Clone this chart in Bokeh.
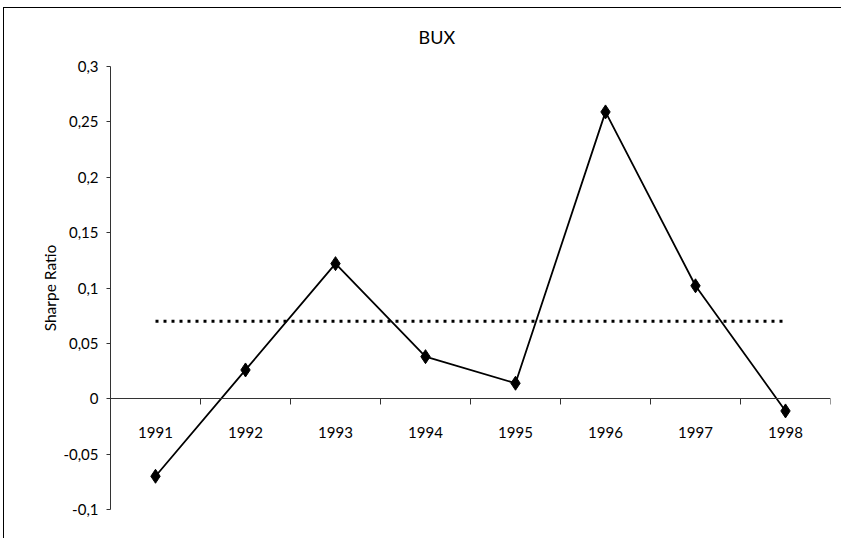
from bokeh.plotting import figure
from bokeh.models import Range1d, LinearAxis, FixedTicker, Title, ColumnDataSource
from bokeh.embed import file_html
from bokeh.resources import INLINE

years = ["1991", "1992", "1993", "1994", "1995", "1996", "1997", "1998"]
sharpe = [-0.07, 0.026, 0.122, 0.038, 0.014, 0.259, 0.102, -0.011]
average = 0.07
y_ticks = [-0.1, -0.05, 0, 0.05, 0.1, 0.15, 0.2, 0.25, 0.3]
y_tick_labels = ["-0,1", "-0,05", "0", "0,05", "0,1", "0,15", "0,2", "0,25", "0,3"]

FONT = "Lato"

n = len(years)
xs = [i + 0.5 for i in range(n)]
bounds = list(range(0, n + 1))

p = figure(width=841, height=538, output_backend="svg", toolbar_location=None,
           x_range=Range1d(0, n), y_range=Range1d(-0.1, 0.3),
           x_axis_type=None, y_axis_type=None,
           min_border_left=110, min_border_right=11, min_border_top=66, min_border_bottom=29)
p.grid.visible = False
p.outline_line_color = None
p.border_fill_color = None
p.background_fill_color = None
p.styles = {"box-shadow": "inset 3px 7px 0 0 #ffffff, inset 4px 8px 0 0 #000000"}

# y axis
yax = LinearAxis(ticker=FixedTicker(ticks=y_ticks),
                 major_label_overrides={t: l for t, l in zip(y_ticks, y_tick_labels)},
                 axis_label="Sharpe Ratio")
yax.major_tick_out = 4
yax.major_tick_in = 0
yax.minor_tick_out = 0
yax.minor_tick_in = 0
yax.axis_line_color = "#333333"
yax.major_tick_line_color = "#333333"
yax.major_label_text_font = FONT
yax.major_label_text_font_size = "15px"
yax.major_label_text_color = "#000000"
yax.major_label_standoff = 8
yax.axis_label_text_font = FONT
yax.axis_label_text_font_size = "15.5px"
yax.axis_label_text_font_style = "normal"
yax.axis_label_text_color = "#000000"
yax.axis_label_standoff = 1
p.add_layout(yax, "left")

# x axis at y = 0: labels at category centres, ticks at category boundaries
xax = LinearAxis(ticker=FixedTicker(ticks=xs, minor_ticks=bounds),
                 major_label_overrides={x: y for x, y in zip(xs, years)},
                 fixed_location=0)
xax.axis_line_color = "#333333"
xax.major_tick_line_color = None
xax.major_tick_out = 0
xax.major_tick_in = 0
xax.minor_tick_line_color = "#333333"
xax.minor_tick_out = 6
xax.minor_tick_in = 0
xax.major_label_standoff = 22
xax.major_label_text_font = FONT
xax.major_label_text_font_size = "15px"
xax.major_label_text_color = "#000000"
p.add_layout(xax, "below")

src = ColumnDataSource(dict(x=xs, y=sharpe))
p.line(x=[xs[0], xs[-1]], y=[average, average], line_color="#000000", line_width=3, line_dash="3 5")
p.line("x", "y", source=src, line_color="#000000", line_width=1.8)
p.scatter("x", "y", source=src, marker="diamond", size=14, fill_color="#000000", line_color="#000000")

t = Title(text="BUX", align="left", offset=308, standoff=38, text_font=FONT, text_font_size="18px",
          text_font_style="normal", text_color="#000000")
p.add_layout(t, "above")

open("out.html", "w").write(file_html(p, INLINE))
